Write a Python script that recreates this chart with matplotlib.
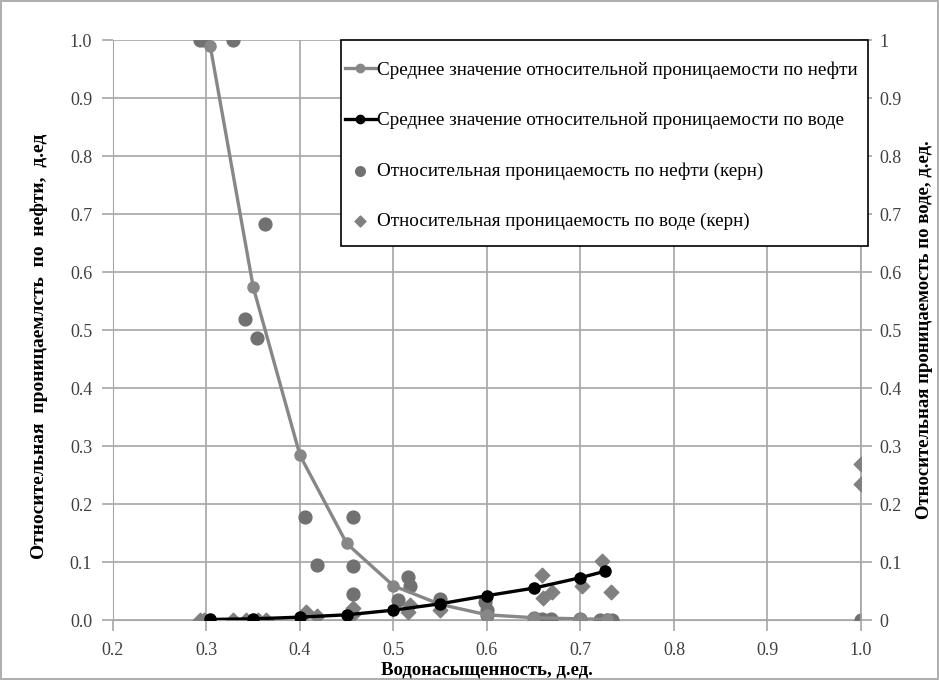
import matplotlib.pyplot as plt
from matplotlib.patches import Rectangle

plt.rcParams['font.family'] = ['Liberation Serif', 'DejaVu Serif']

# средние значения
sw_mean_oil = [0.304, 0.35, 0.40, 0.45, 0.50, 0.55, 0.60, 0.65, 0.70, 0.728]
kr_mean_oil = [0.99, 0.574, 0.284, 0.132, 0.059, 0.027, 0.009, 0.004, 0.002, 0.001]
sw_mean_water = [0.304, 0.35, 0.40, 0.45, 0.50, 0.55, 0.60, 0.65, 0.70, 0.726]
kr_mean_water = [0.001, 0.002, 0.005, 0.009, 0.017, 0.028, 0.042, 0.055, 0.073, 0.084]

# керн, нефть
sw_core_oil = [0.293, 0.297, 0.328, 0.341, 0.354, 0.363, 0.405, 0.418, 0.457, 0.457, 0.457,
               0.505, 0.516, 0.518, 0.55, 0.598, 0.60, 0.60, 0.65, 0.659, 0.669,
               0.70, 0.721, 0.728, 0.734, 1.0]
kr_core_oil = [1.0, 1.0, 1.0, 0.519, 0.486, 0.682, 0.178, 0.095, 0.178, 0.093, 0.045,
               0.034, 0.075, 0.058, 0.036, 0.031, 0.017, 0.009, 0.003, 0.002, 0.001,
               0.001, 0.0, 0.0, 0.0, 0.0]

# керн, вода
sw_core_water = [0.293, 0.297, 0.328, 0.342, 0.355, 0.364, 0.406, 0.418, 0.457, 0.457,
                 0.516, 0.518, 0.55, 0.659, 0.66, 0.67, 0.702, 0.723, 0.733, 1.0, 1.0]
kr_core_water = [0.0, 0.0, 0.0, 0.0, 0.0, 0.0, 0.014, 0.007, 0.021, 0.01,
                 0.014, 0.026, 0.017, 0.078, 0.038, 0.048, 0.059, 0.101, 0.049, 0.269, 0.234]

fig = plt.figure(figsize=(9.39, 6.8), dpi=100)
fig.patch.set_edgecolor('#b0b0b0')
fig.patch.set_linewidth(1.5)
ax = fig.add_axes([0.1203, 0.0882, 0.7966, 0.8529])
ax2 = ax.twinx()

l1, = ax.plot(sw_mean_oil, kr_mean_oil, '-o', color='#878787', lw=2.4, ms=8,
              label='Среднее значение относительной проницаемости по нефти', zorder=4)
s1 = ax.scatter(sw_core_oil, kr_core_oil, s=85, color='#717171',
                label='Относительная проницаемость по нефти (керн)', zorder=3)
l2, = ax2.plot(sw_mean_water, kr_mean_water, '-o', color='black', lw=2.4, ms=8,
               label='Среднее значение относительной проницаемости по воде', zorder=5)
s2 = ax2.scatter(sw_core_water, kr_core_water, s=55, marker='D', color='#808080',
                 label='Относительная проницаемость по воде (керн)', zorder=4)

ax.set_xlim(0.2, 1.0)
ax.set_ylim(0, 1.0)
ax2.set_ylim(0, 1.0)
ticks = [i / 10 for i in range(11)]
xticks = [i / 10 for i in range(2, 11)]
ax.set_xticks(xticks)
ax.set_xticklabels(['%.1f' % t for t in xticks])
ax.set_yticks(ticks)
ax.set_yticklabels(['%.1f' % t for t in ticks])
ax2.set_yticks(ticks)
ax2.set_yticklabels(['0'] + ['%g' % t for t in ticks[1:-1]] + ['1'])

ax.grid(True, color='#a6a6a6', lw=1.2)
for a in (ax, ax2):
    for s in a.spines.values():
        s.set_visible(False)
    a.tick_params(labelsize=13, colors='#a6a6a6', labelcolor='#404040', length=8, width=1.2)
ax.tick_params(axis='x', pad=8)
ax.tick_params(axis='y', pad=7)
ax2.tick_params(axis='y', pad=5)
ax.spines['left'].set_visible(True)
ax.spines['left'].set_color('#a6a6a6')
ax.spines['bottom'].set_visible(True)
ax.spines['bottom'].set_color('#a6a6a6')
ax2.spines['right'].set_visible(True)
ax2.spines['right'].set_color('#a6a6a6')
ax2.spines['right'].set_linewidth(1.2)

ax.set_xlabel('Водонасыщенность, д.ед.', fontsize=13.5, fontweight='bold')
ax.xaxis.set_label_coords(0.5, -0.0715)
ax.set_ylabel('Относительная  проницаемлсть  по  нефти,  д.ед', fontsize=14, fontweight='bold')
ax.yaxis.set_label_coords(-0.087, 0.472)
ax2.set_ylabel('Относительная проницаемость по воде, д.ед.', fontsize=13.5, fontweight='bold')
ax2.yaxis.set_label_coords(1.074, 0.5)

# рамка легенды
ax2.add_patch(Rectangle((0.3048, 0.6448), 0.7046, 0.3552, transform=ax2.transAxes,
                        facecolor='white', edgecolor='black', lw=1.2, zorder=9, clip_on=False))
leg = ax2.legend([l1, l2, s1, s2], [h.get_label() for h in [l1, l2, s1, s2]],
                 loc='upper left', bbox_to_anchor=(0.310, 0.963), fontsize=13.8,
                 frameon=False, handlelength=1.6, handletextpad=0.1, labelspacing=1.72,
                 borderpad=0, borderaxespad=0, markerscale=0.75)
leg.set_zorder(10)

fig.savefig('out.png', dpi=100)
